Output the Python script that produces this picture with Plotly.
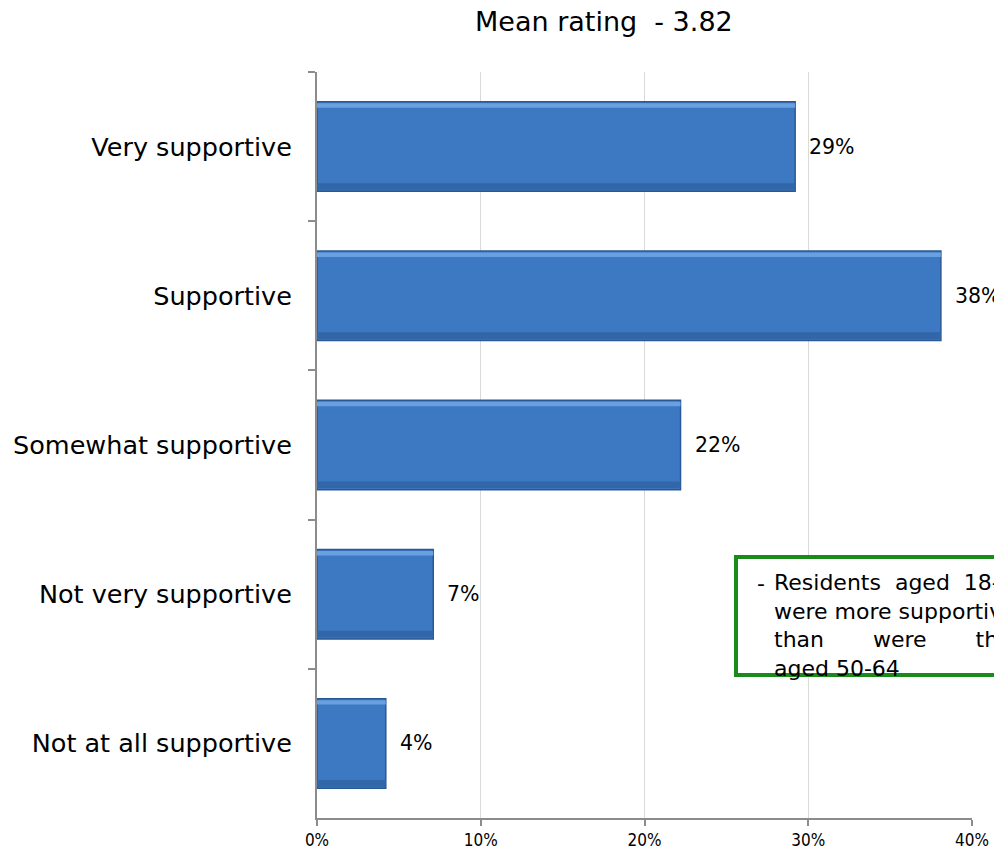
import plotly.graph_objects as go

categories = ["Very supportive", "Supportive", "Somewhat supportive",
              "Not very supportive", "Not at all supportive"]
values = [29.2, 38.1, 22.2, 7.1, 4.2]
value_labels = ["29%", "38%", "22%", "7%", "4%"]
x_ticks = [0, 10, 20, 30, 40]
x_tick_labels = ["0%", "10%", "20%", "30%", "40%"]
title_text = "Mean rating\u00a0\u00a0- 3.82"
note_lines = ["Residents\u00a0\u00a0aged\u00a0\u00a018-34",
              "were\u00a0more\u00a0supportive",
              "than\u00a0\u00a0\u00a0\u00a0\u00a0\u00a0\u00a0were\u00a0\u00a0\u00a0\u00a0\u00a0\u00a0\u00a0those",
              "aged 50-64"]

W, H = 994, 855
L, R, T, B = 317, 22, 72, 37
PW, PH = W - L - R, H - T - B

def px_x(x):
    return (x - L) / PW

def px_y(y):
    return (H - B - y) / PH

FONT = "DejaVu Sans"

fig = go.Figure()
fig.add_trace(go.Bar(
    x=values, y=categories, orientation="h", width=0.6, offset=-0.3,
    marker=dict(color="#3d79c3", line=dict(color="#2a5894", width=1.5)),
    hoverinfo="skip", showlegend=False,
))
# bevel-like shading strips
fig.add_trace(go.Bar(
    x=values, y=categories, orientation="h", width=0.03, offset=-0.29,
    marker=dict(color="#68a0e0", line=dict(width=0)),
    hoverinfo="skip", showlegend=False,
))
fig.add_trace(go.Bar(
    x=values, y=categories, orientation="h", width=0.045, offset=0.245,
    marker=dict(color="#3166a9", line=dict(width=0)),
    hoverinfo="skip", showlegend=False,
))

for v, c, t in zip(values, categories, value_labels):
    fig.add_annotation(x=v, y=c, xref="x", yref="y", text=t, showarrow=False,
                       xanchor="left", yanchor="middle", xshift=12,
                       font=dict(family=FONT, size=20.5, color="#000000"))

fig.add_annotation(x=px_x(604), y=px_y(22), xref="paper", yref="paper",
                   text=title_text, showarrow=False, xanchor="center", yanchor="middle",
                   font=dict(family=FONT, size=27, color="#000000"))

# note box
fig.add_shape(type="rect", xref="paper", yref="paper",
              x0=px_x(736), x1=px_x(1040), y0=px_y(675), y1=px_y(557),
              line=dict(color="#1a8a1a", width=4), fillcolor="white", layer="above")
fig.add_annotation(x=px_x(755), y=px_y(583), xref="paper", yref="paper",
                   text="-", showarrow=False, xanchor="left", yanchor="middle",
                   font=dict(family=FONT, size=22, color="#000000"))
fig.add_annotation(x=px_x(772), y=px_y(625), xref="paper", yref="paper",
                   text="<br>".join(note_lines), showarrow=False, align="left",
                   xanchor="left", yanchor="middle",
                   font=dict(family=FONT, size=22, color="#000000"))

fig.update_layout(
    width=W, height=H,
    margin=dict(l=L, r=R, t=T, b=B, autoexpand=False),
    paper_bgcolor="white", plot_bgcolor="white",
    barmode="overlay",
    xaxis=dict(range=[0, 40], tickvals=x_ticks, ticktext=x_tick_labels,
               showgrid=True, gridcolor="#d9d9d9", gridwidth=1, zeroline=False,
               showline=True, linecolor="#8c8c8c", linewidth=2,
               ticks="outside", ticklen=6, tickcolor="#8c8c8c", tickwidth=2,
               tickfont=dict(family="DejaVu Sans Condensed", size=17, color="#000000")),
    yaxis=dict(categoryorder="array", categoryarray=categories, autorange="reversed",
               showline=True, linecolor="#8c8c8c", linewidth=2,
               ticks="outside", ticklen=7, tickcolor="#8c8c8c", tickwidth=2,
               tickson="boundaries", ticklabelstandoff=18, showgrid=False,
               tickfont=dict(family=FONT, size=25.5, color="#000000")),
)

fig.write_html(
    "out.html",
    config={"displayModeBar": False},
    post_script="document.body.style.margin='0';document.body.style.overflow='hidden';",
)
